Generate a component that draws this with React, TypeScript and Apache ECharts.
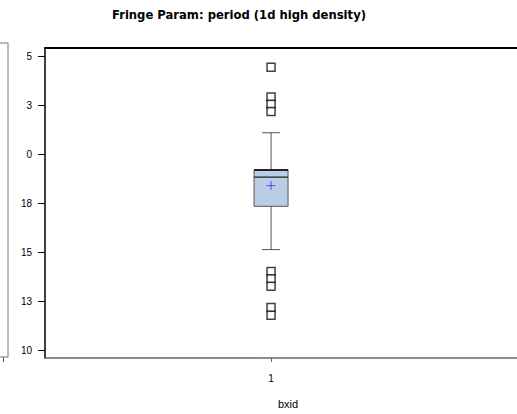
import React, { useEffect, useRef } from "react";
import * as echarts from "echarts";

// ---- data ----
const category = 1; // bxid
const categoryLabels = ["1"];
const lowWhisker = 15.14;
const q1 = 17.35;
const median = 18.84;
const q3 = 19.21;
const highWhisker = 21.11;
const mean = 18.41;
const outliers = [24.46, 22.93, 22.56, 22.2, 14.02, 13.65, 13.27, 12.18, 11.79];
const yTickValues = [10, 12.5, 15, 17.5, 20, 22.5, 25];
// labels as they appear (left part clipped in the source image)
const yTickLabels = ["10", "13", "15", "18", "0", "3", "5"];
const titleText = "Fringe Param: period (1d high density)";
const xName = "bxid";

const FONT = "'Liberation Sans', Arial, sans-serif";
const BOX_W = 34;
const CAP_W = 18;
const X_MAX = 2.088;

export default function App() {
  const ref = useRef<HTMLDivElement>(null);
  useEffect(() => {
    if (!ref.current) return;
    const chart = echarts.init(ref.current, null, { renderer: "svg" });
    const option: any = {
      animation: false,
      backgroundColor: "#ffffff",
      title: {
        text: titleText,
        left: 107,
        top: 4,
        textStyle: { fontFamily: "'DejaVu Sans', sans-serif", fontSize: 11.6, fontWeight: "bold", color: "#000" },
      },
      grid: { left: 45, right: 0, top: 48, bottom: 51, containLabel: false },
      xAxis: [
        {
          type: "value",
          min: 0,
          max: X_MAX,
          position: "bottom",
          splitLine: { show: false },
          axisLine: { show: true, onZero: false, lineStyle: { color: "#666", width: 1.5 } },
          axisTick: { show: true, customValues: [category], length: 4, lineStyle: { color: "#666" } },
          axisLabel: {
            customValues: [category],
            formatter: () => categoryLabels[0],
            fontFamily: FONT,
            fontSize: 10,
            color: "#000",
            margin: 15,
          },
          name: xName,
          nameLocation: "middle",
          nameGap: 40,
          nameTextStyle: { fontFamily: FONT, fontSize: 11, color: "#000", padding: [0, 0, 0, 14] },
        },
        {
          type: "value",
          min: 0,
          max: X_MAX,
          position: "top",
          splitLine: { show: false },
          axisLine: { show: true, onZero: false, lineStyle: { color: "#000", width: 2 } },
          axisTick: { show: false },
          axisLabel: { show: false },
        },
      ],
      yAxis: {
        type: "value",
        min: 9.6,
        max: 25.44,
        splitLine: { show: false },
        axisLine: { show: true, onZero: false, lineStyle: { color: "#000", width: 1.5 } },
        axisTick: { show: true, customValues: yTickValues, length: 7, lineStyle: { color: "#000" } },
        axisLabel: {
          customValues: yTickValues,
          formatter: (v: number) => {
            const i = yTickValues.findIndex((t) => Math.abs(t - v) < 1e-6);
            return i >= 0 ? yTickLabels[i] : "";
          },
          fontFamily: FONT,
          fontSize: 10,
          color: "#000",
          margin: 13,
        },
      },
      graphic: [
        {
          type: "polyline",
          shape: { points: [[0, 43], [8, 43], [8, 357], [0, 357]] },
          style: { stroke: "#777", lineWidth: 1, fill: "none" },
        },
        {
          type: "line",
          shape: { x1: 3.5, y1: 357, x2: 3.5, y2: 362 },
          style: { stroke: "#555", lineWidth: 1 },
        },
      ],
      series: [
        {
          type: "custom",
          xAxisIndex: 0,
          data: [[category, lowWhisker, q1, median, q3, highWhisker]],
          encode: { x: 0, y: [1, 2, 3, 4, 5] },
          z: 2,
          renderItem: (params: any, api: any) => {
            const x = api.value(0);
            const pLow = api.coord([x, api.value(1)]);
            const pQ1 = api.coord([x, api.value(2)]);
            const pMed = api.coord([x, api.value(3)]);
            const pQ3 = api.coord([x, api.value(4)]);
            const pHigh = api.coord([x, api.value(5)]);
            const cx = pMed[0];
            const whisker = { stroke: "#555", lineWidth: 1 };
            return {
              type: "group",
              children: [
                { type: "line", shape: { x1: cx, y1: pHigh[1], x2: cx, y2: pQ3[1] }, style: whisker },
                { type: "line", shape: { x1: cx, y1: pQ1[1], x2: cx, y2: pLow[1] }, style: whisker },
                { type: "line", shape: { x1: cx - CAP_W / 2, y1: pHigh[1], x2: cx + CAP_W / 2, y2: pHigh[1] }, style: whisker },
                { type: "line", shape: { x1: cx - CAP_W / 2, y1: pLow[1], x2: cx + CAP_W / 2, y2: pLow[1] }, style: whisker },
                {
                  type: "rect",
                  shape: { x: cx - BOX_W / 2, y: pQ3[1], width: BOX_W, height: pQ1[1] - pQ3[1] },
                  style: { fill: "#b9cde5", stroke: "#555", lineWidth: 1 },
                },
                { type: "line", shape: { x1: cx - BOX_W / 2, y1: pQ3[1], x2: cx + BOX_W / 2, y2: pQ3[1] }, style: { stroke: "#222", lineWidth: 2 } },
                { type: "line", shape: { x1: cx - BOX_W / 2, y1: pMed[1], x2: cx + BOX_W / 2, y2: pMed[1] }, style: { stroke: "#222", lineWidth: 1.2 } },
              ],
            };
          },
        },
        {
          type: "scatter",
          xAxisIndex: 0,
          symbol: "rect",
          symbolSize: 8,
          itemStyle: { color: "#fff", borderColor: "#111", borderWidth: 1.5 },
          data: outliers.map((v) => [category, v]),
          z: 4,
        },
        {
          type: "scatter",
          xAxisIndex: 0,
          symbol: "path://M0,5L10,5M5,0L5,10",
          symbolSize: 9,
          itemStyle: { color: "none", borderColor: "#3a3aee", borderWidth: 1 },
          data: [[category, mean]],
          z: 5,
        },
      ],
    };
    chart.setOption(option);
    return () => chart.dispose();
  }, []);
  return (
    <div
      ref={ref}
      style={{ position: "absolute", left: 0, top: 0, width: 517, height: 414 }}
    />
  );
}
